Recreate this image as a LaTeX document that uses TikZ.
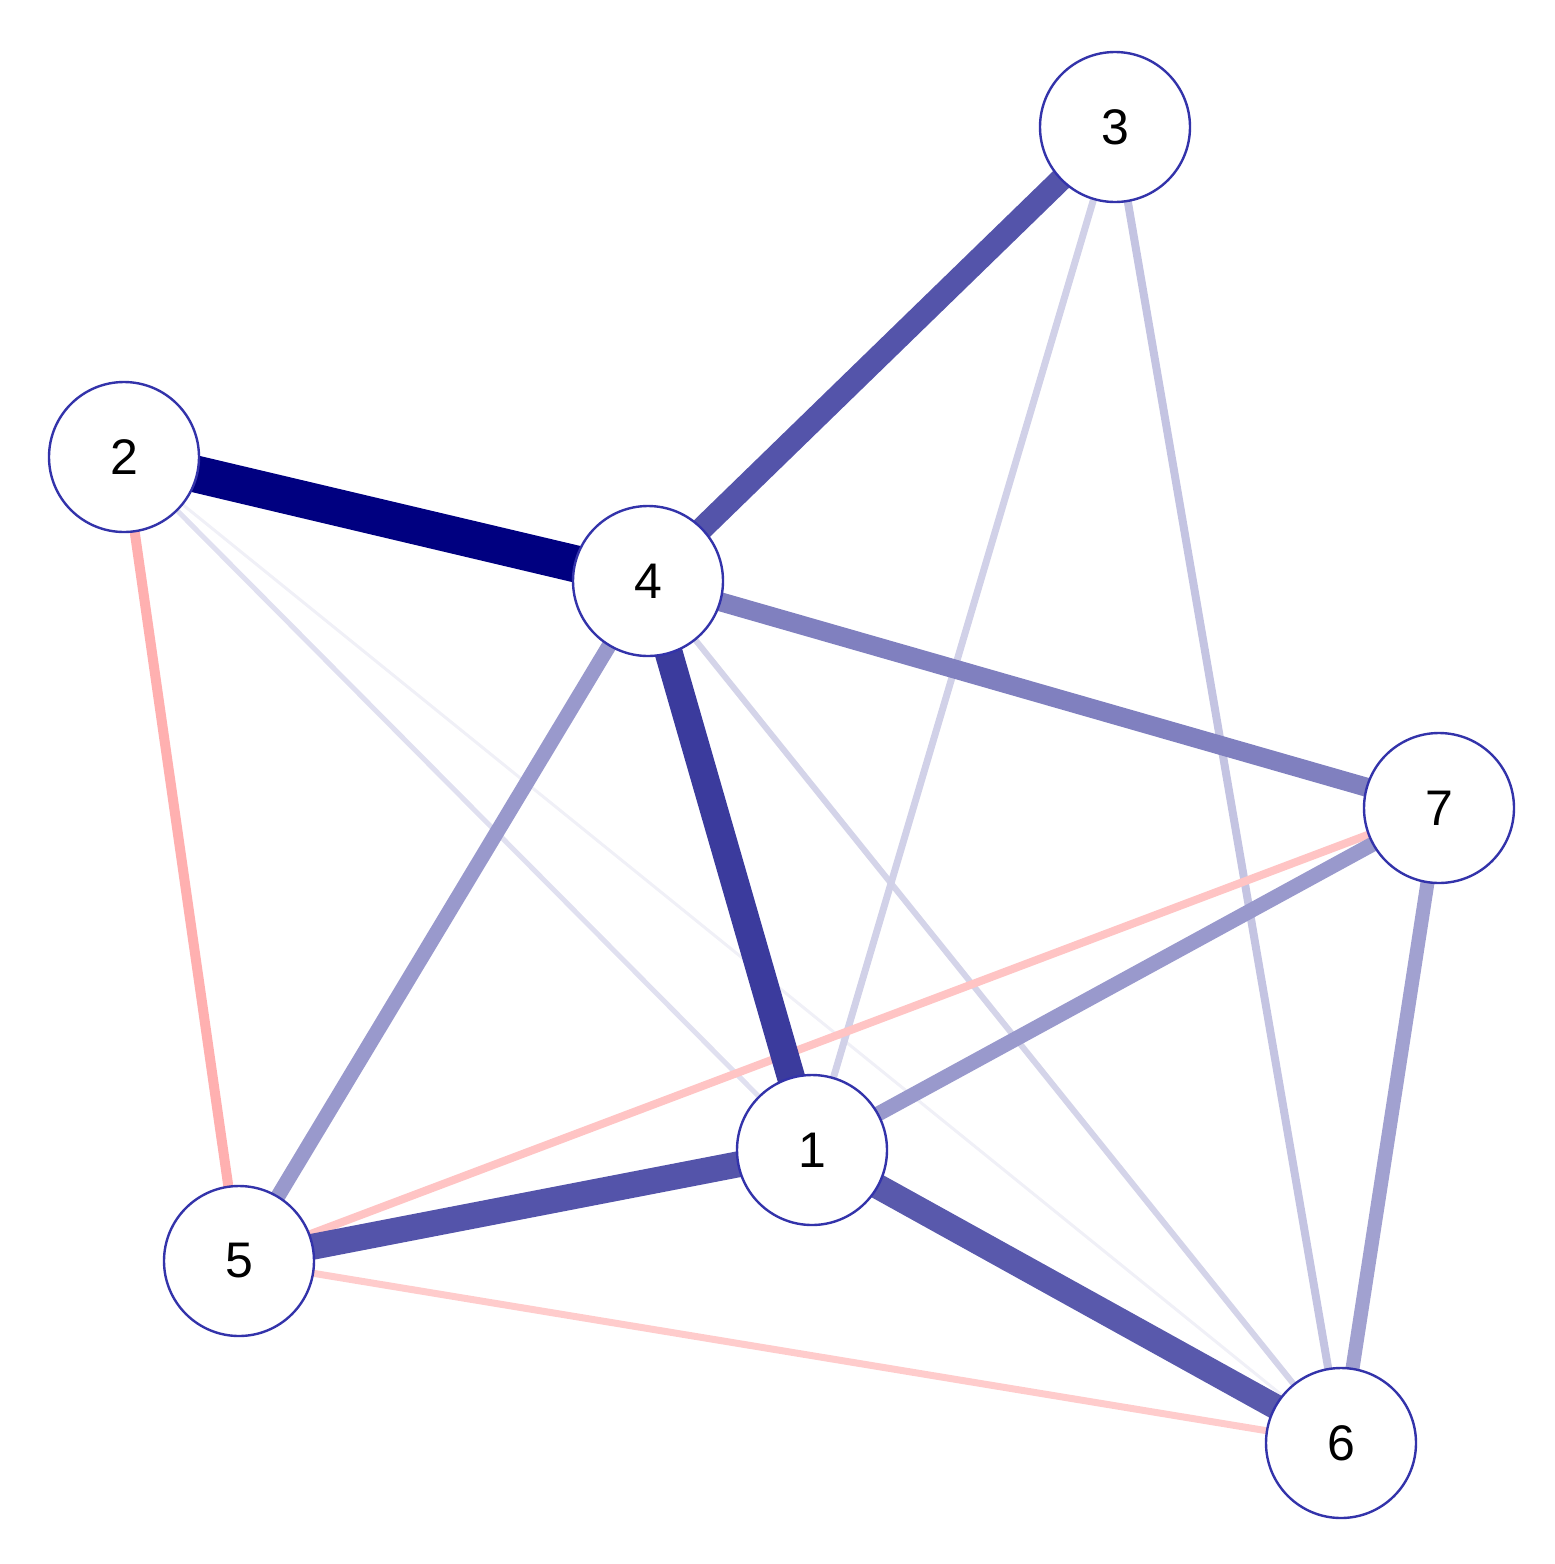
\documentclass[tikz,border=0pt]{standalone}
\usepackage{fontspec}
\setmainfont{Liberation Sans}
\usetikzlibrary{backgrounds}
\definecolor{navyc}{RGB}{0,0,128}
\definecolor{redc}{RGB}{255,0,0}
\definecolor{nodeborder}{RGB}{51,51,170}
\tikzset{
  vnode/.style={circle, draw=nodeborder, line width=2.4pt, fill=white, minimum size=150pt, inner sep=0pt, font=\fontsize{50}{60}\selectfont},
  pos/.style 2 args={line width=#1pt, draw=navyc!#2!white, line cap=butt},
  neg/.style 2 args={line width=#1pt, draw=redc!#2!white, line cap=butt}
}
\begin{document}
\begin{tikzpicture}[x=1pt,y=-1pt]
\useasboundingbox (0,0) rectangle (1555,1564);
\node[vnode] (n1) at (812,1150) {1};
\node[vnode] (n2) at (124,457) {2};
\node[vnode] (n3) at (1115,127) {3};
\node[vnode] (n4) at (648,581) {4};
\node[vnode] (n5) at (239,1261) {5};
\node[vnode] (n6) at (1341,1443) {6};
\node[vnode] (n7) at (1439,808) {7};
\begin{scope}[on background layer]
\draw[pos={3}{6}] (n2.center) -- (n6.center);
\draw[pos={5}{12}] (n2.center) -- (n1.center);
\draw[pos={6}{17}] (n4.center) -- (n6.center);
\draw[pos={7}{18}] (n3.center) -- (n1.center);
\draw[pos={8}{23}] (n3.center) -- (n6.center);
\draw[neg={7}{20}] (n5.center) -- (n6.center);
\draw[neg={8}{23}] (n5.center) -- (n7.center);
\draw[neg={10}{31}] (n2.center) -- (n5.center);
\draw[pos={14}{37}] (n7.center) -- (n6.center);
\draw[pos={15}{40}] (n1.center) -- (n7.center);
\draw[pos={15}{40}] (n4.center) -- (n5.center);
\draw[pos={19}{50}] (n4.center) -- (n7.center);
\draw[pos={23}{67}] (n3.center) -- (n4.center);
\draw[pos={25}{65}] (n1.center) -- (n6.center);
\draw[pos={26}{67}] (n1.center) -- (n5.center);
\draw[pos={28}{77}] (n4.center) -- (n1.center);
\draw[pos={37}{100}] (n2.center) -- (n4.center);
\end{scope}
\end{tikzpicture}
\end{document}
